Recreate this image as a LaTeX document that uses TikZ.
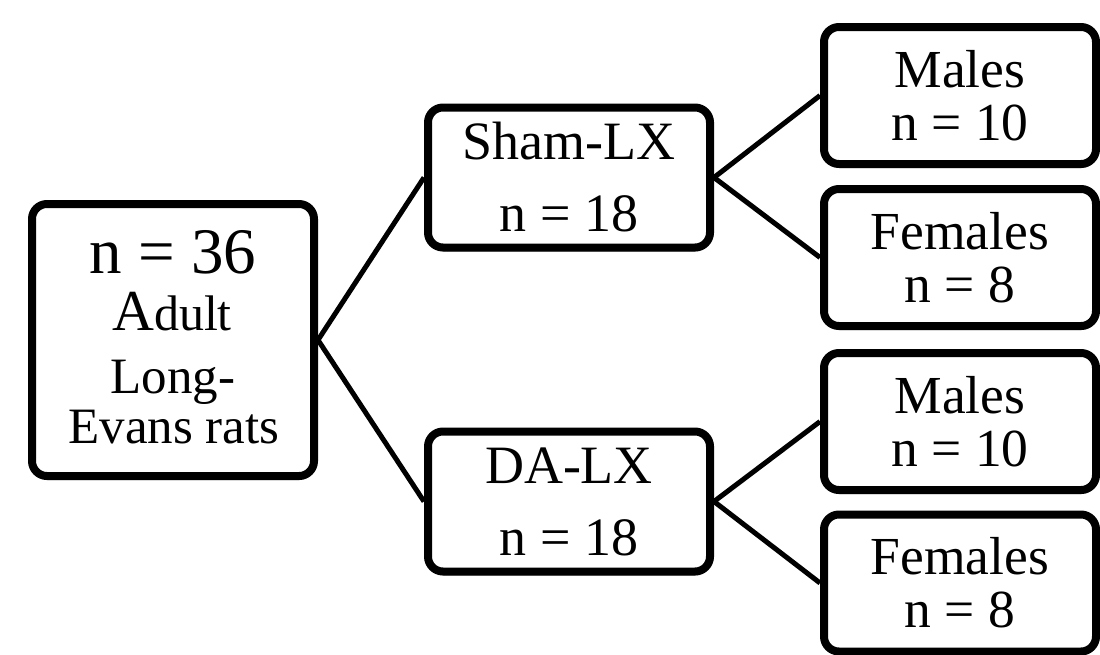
\documentclass[tikz,border=0pt]{standalone}
\usepackage{fontspec}
\setmainfont{Liberation Serif}
\usetikzlibrary{shadows}
\begin{document}
\begin{tikzpicture}[x=1pt,y=-1pt,
  box/.style={draw=black, line width=8pt, rounded corners=15pt, fill=white,
    inner sep=0pt, align=center,
    drop shadow={shadow xshift=1pt, shadow yshift=-4pt, opacity=0.25, fill=black}},
  rootbox/.style={box, minimum width=282pt, minimum height=272pt},
  midbox/.style={box, minimum width=282pt, minimum height=140pt,
    font=\fontsize{54}{72}\selectfont},
  leafbox/.style={box, minimum width=272pt, minimum height=137pt,
    font=\fontsize{53.5}{53}\selectfont},
  txt/.style={anchor=base, inner sep=0pt},
  conn/.style={line width=5pt}]
\useasboundingbox (0,0) rectangle (1100,654);
% root box
\node[rootbox] (root) at (173,340) {};
\node[txt, font=\fontsize{65}{65}\selectfont] (r1) at (173,273) {n = 36};
\node[txt] (r2) at (172,330) {{\fontsize{58}{58}\selectfont A}{\fontsize{50}{50}\selectfont dult}};
\node[txt, font=\fontsize{51}{51}\selectfont] (r3) at (173,393) {Long-};
\node[txt, font=\fontsize{51}{51}\selectfont] (r4) at (174,443) {Evans rats};
% middle boxes
\node[midbox] (sham) at (569,177.5) {Sham-LX\\n = 18};
\node[midbox] (da) at (569,501.5) {DA-LX\\n = 18};
% leaf boxes
\node[leafbox] (m1) at (960,95.5) {Males\\n = 10};
\node[leafbox] (f1) at (960,257.5) {Females\\n = 8};
\node[leafbox] (m2) at (960,421.5) {Males\\n = 10};
\node[leafbox] (f2) at (960,583) {Females\\n = 8};
% connectors
\draw[conn] (root.east) -- (sham.west);
\draw[conn] (root.east) -- (da.west);
\draw[conn] (sham.east) -- (m1.west);
\draw[conn] (sham.east) -- (f1.west);
\draw[conn] (da.east) -- (m2.west);
\draw[conn] (da.east) -- (f2.west);
\end{tikzpicture}
\end{document}
